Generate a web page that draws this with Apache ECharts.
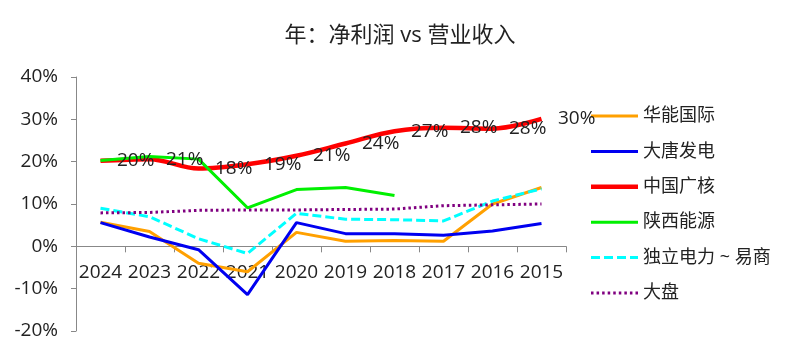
<!DOCTYPE html>
<html>
<head>
<meta charset="utf-8">
<script src="https://cdn.jsdelivr.net/npm/echarts@6/dist/echarts.min.js"></script>
<style>html,body{margin:0;padding:0;background:#fff}#c{width:800px;height:353px}</style>
</head>
<body>
<div id="c"></div>
<script>
var categories = ['2024','2023','2022','2021','2020','2019','2018','2017','2016','2015'];
var huaneng = [5.7, 3.5, -4.0, -6.0, 3.3, 1.2, 1.4, 1.2, 10.0, 13.9];
var datang = [5.6, 2.2, -0.8, -11.4, 5.6, 3.0, 3.0, 2.6, 3.6, 5.4];
var cgn = [20.2, 20.6, 18.4, 19.4, 21.4, 24.3, 27.2, 28.0, 27.8, 30.1];
var shaanxi = [20.3, 21.2, 20.6, 9.1, 13.4, 13.9, 12.0, null, null, null];
var indep = [9.0, 7.0, 1.8, -1.7, 7.8, 6.4, 6.3, 6.0, 10.7, 13.6];
var market = [7.9, 8.0, 8.5, 8.6, 8.6, 8.7, 8.8, 9.6, 9.8, 10.0];
var names = ['华能国际','大唐发电','中国广核','陕西能源','独立电力 ~ 易商','大盘'];
var yMin = -20, yMax = 40, yStep = 10;

var FF = '"Open Sans","Noto Sans CJK SC",sans-serif';
var GRID = {left: 76, right: 234, top: 77, bottom: 22};
var gridH = 353 - GRID.top - GRID.bottom;
var zeroOffset = -(0 - yMin) / (yMax - yMin) * gridH;

// legend icon paths (47 x 14 box; tiny specks pin the bounding box)
var IW = 47, IH = 14;
function iconPath(thick, dash, gap) {
  var y0 = (IH - thick) / 2;
  var p = 'path://M0,0h0.01v0.01h-0.01z M0,' + (IH - 0.01) + 'h0.01v0.01h-0.01z';
  if (!dash) {
    p += ' M0,' + y0 + 'h' + IW + 'v' + thick + 'h-' + IW + 'z';
  } else {
    for (var x = 0; x < IW; x += dash + gap) {
      var w = Math.min(dash, IW - x);
      p += ' M' + x + ',' + y0 + 'h' + w + 'v' + thick + 'h-' + w + 'z';
    }
  }
  return p;
}

var chart = echarts.init(document.getElementById('c'), null, {renderer:'canvas'});
function line(name, data, color, width, type, extra) {
  var s = {
    name: name, type: 'line', data: data, symbol: 'none', connectNulls: false,
    lineStyle: {color: color, width: width, type: type || 'solid'},
    itemStyle: {color: color},
    emphasis: {disabled: true}, animation: false
  };
  if (extra) for (var k in extra) s[k] = extra[k];
  return s;
}
var icons = [iconPath(3), iconPath(3), iconPath(4.5), iconPath(3), iconPath(3, 9, 4), iconPath(3, 2.5, 3)];
chart.setOption({
  backgroundColor: '#fff',
  textStyle: {fontFamily: FF},
  title: {
    text: '年：净利润 vs 营业收入', left: 'center', top: 20,
    textStyle: {fontFamily: FF, fontSize: 22, fontWeight: 'normal', color: '#222'}
  },
  legend: {
    orient: 'vertical', left: 586, top: 102, itemWidth: IW, itemHeight: IH, itemGap: 17.4,
    symbolKeepAspect: false,
    itemStyle: {borderWidth: 0},
    textStyle: {fontFamily: FF, fontSize: 18, color: '#222'},
    data: names.map(function(n, i){ return {name: n, icon: icons[i]}; })
  },
  grid: {left: GRID.left, right: GRID.right, top: GRID.top, bottom: GRID.bottom, containLabel: false, outerBoundsMode: 'none'},
  xAxis: {
    type: 'category', data: categories, boundaryGap: true, position: 'bottom', offset: zeroOffset,
    axisLine: {onZero: false, lineStyle: {color: '#888', width: 1}},
    axisTick: {show: true, length: 6, lineStyle: {color: '#888'}},
    axisLabel: {fontFamily: FF, fontSize: 19, color: '#222', margin: 17, interval: 0},
    splitLine: {show: false}
  },
  yAxis: {
    type: 'value', min: yMin, max: yMax, interval: yStep,
    axisLine: {show: true, lineStyle: {color: '#888', width: 1}},
    axisTick: {show: true, length: 5, lineStyle: {color: '#888'}},
    axisLabel: {fontFamily: FF, fontSize: 19, color: '#222', margin: 18, formatter: '{value}%'},
    splitLine: {show: false}
  },
  series: [
    line(names[0], huaneng, '#FFA000', 3),
    line(names[1], datang, '#0000F0', 3),
    line(names[2], cgn, '#FF0000', 4.5, 'solid', {smooth: 0.35}),
    line(names[3], shaanxi, '#00F000', 3),
    line(names[4], indep, '#00FFFF', 3, [9, 4]),
    line(names[5], market, '#800080', 3, [2.5, 3]),
    {
      name: 'cgn-labels', type: 'line', data: cgn, symbol: 'circle', symbolSize: 1, showSymbol: true,
      lineStyle: {width: 0, color: 'rgba(0,0,0,0)'}, itemStyle: {color: 'rgba(0,0,0,0)', borderWidth: 0},
      emphasis: {disabled: true}, animation: false, silent: true, z: 5,
      label: {show: true, position: 'right', distance: 16, fontFamily: FF, fontSize: 19, color: '#222',
        formatter: function(p){ return Math.round(p.value) + '%'; }}
    }
  ]
});
</script>
</body>
</html>
